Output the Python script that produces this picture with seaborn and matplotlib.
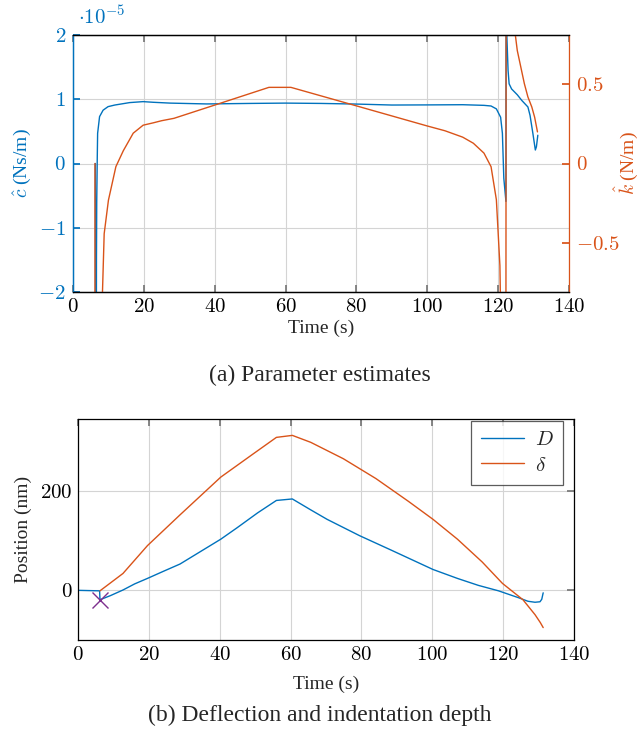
import numpy as np
import pandas as pd
import matplotlib
matplotlib.use("Agg")
import matplotlib.pyplot as plt
import seaborn as sns
from matplotlib.ticker import FuncFormatter, FixedLocator

sns.set_theme(style="white")
plt.rcParams['font.family'] = ['Liberation Serif', 'DejaVu Serif']
plt.rcParams['mathtext.fontset'] = 'cm'

BLUE = "#0072BD"
ORANGE = "#D95319"
PURPLE = "#7E2F8E"

# ---- (a) parameter estimates ----
# c-hat (units of 1e-5 Ns/m)
c_t = [6.3, 6.4, 6.55, 6.62, 6.7, 6.85, 6.95, 7.5, 8.5, 9.9, 11.8, 16.0, 19.8, 22.6, 27.4,
       37.7, 50.0, 60.0, 70.0, 80.0, 90.0, 100.0, 110.0, 116.0, 118.0, 119.5, 120.7,
       121.2, 121.6, 122.2, 122.25, 122.45, 122.8, 123.1, 123.8, 125.4, 126.7, 128.4,
       129.0, 129.8, 130.5, 130.8, 131.2]
c_v = [0.0, -5.0, -5.0, -1.5, -0.6, 0.1, 0.47, 0.73, 0.83, 0.885, 0.91, 0.948, 0.963, 0.953, 0.94,
       0.927, 0.935, 0.94, 0.935, 0.925, 0.91, 0.912, 0.915, 0.905, 0.895, 0.85, 0.72,
       0.47, -0.23, -0.59, 3.0, 2.0, 1.45, 1.24, 1.16, 1.07, 0.98, 0.88,
       0.75, 0.47, 0.21, 0.26, 0.44]
# k-hat (N/m)
k_t = [6.2, 6.22, 8.0, 8.3, 8.8, 10.0, 12.1, 14.2, 17.0, 19.8, 22.7, 25.0, 28.5, 40.0,
       55.3, 61.5, 80.0, 100.0, 105.0, 110.0, 113.0, 116.0, 118.0, 119.5, 120.5, 120.9,
       121.2, 122.15, 122.3, 124.6, 125.4, 126.4, 127.4, 128.4, 129.5, 130.3, 131.1]
k_v = [0.0, -3.0, -3.0, -0.82, -0.44, -0.23, -0.02, 0.08, 0.19, 0.24, 0.255, 0.268, 0.283, 0.366,
       0.477, 0.477, 0.361, 0.235, 0.205, 0.165, 0.127, 0.065, -0.02, -0.227, -0.64, -1.2,
       -3.0, -3.0, 3.0, 0.85, 0.708, 0.604, 0.5, 0.417, 0.354, 0.29, 0.198]

# ---- (b) deflection and indentation ----
D_t = [0.0, 3.0, 6.1, 6.2, 9.2, 12.7, 16.0, 19.6, 24.0, 28.8, 33.4, 40.3, 44.9, 50.7, 56.0,
       60.5, 65.7, 70.3, 79.5, 88.7, 100.2, 107.1, 113.0, 118.7, 124.4, 127.0, 129.0,
       130.4, 130.9, 131.3]
D_v = [0.0, -0.5, -1.0, -19.0, -10.5, 0.7, 13.0, 24.0, 38.0, 53.0, 73.0, 103.0, 126.0, 156.0, 181.0,
       184.0, 162.0, 143.0, 110.0, 80.0, 42.0, 24.0, 10.0, -1.0, -15.0, -22.0, -24.0,
       -23.0, -18.0, -5.0]
d_t = [6.2, 12.7, 19.6, 28.8, 40.3, 49.5, 56.0, 60.5, 65.7, 74.9, 84.1, 93.3, 100.2, 107.1,
       114.1, 119.8, 125.6, 129.0, 130.5, 131.3]
d_v = [-1.0, 34.0, 90.0, 152.0, 228.0, 275.0, 308.0, 312.0, 298.0, 265.0, 225.0, 179.0, 143.0, 103.0,
       57.0, 14.0, -19.0, -49.0, -65.0, -75.0]
contact_t = [6.3]
contact_v = [-20.0]

x_ticks = [0, 20, 40, 60, 80, 100, 120, 140]
c_ticks = [-2, -1, 0, 1, 2]
k_ticks = [-0.5, 0, 0.5]
pos_ticks = [0, 200]

TICK_FS = 15
LAB_FS = 14
CAP_FS = 17


def mfmt(v, pos=None):
    if abs(v - round(v)) < 1e-9:
        s = f"{int(round(v))}"
    else:
        s = f"{v:g}"
    return f"${s}$"


fig = plt.figure(figsize=(6.4, 7.36), dpi=100)

# ---------- top ----------
ax = fig.add_axes([73 / 640, 1 - 292 / 736, 496 / 640, 257 / 736])
ax2 = ax.twinx()

dfc = pd.DataFrame({"t": c_t, "v": c_v})
dfk = pd.DataFrame({"t": k_t, "v": k_v})
sns.lineplot(data=dfc, x="t", y="v", ax=ax, color=BLUE, lw=1.0, sort=False, estimator=None)
sns.lineplot(data=dfk, x="t", y="v", ax=ax2, color=ORANGE, lw=1.0, sort=False, estimator=None)

ax.set_xlim(0, 140)
ax.set_ylim(-2, 2)
ax2.set_ylim(-0.805, 0.805)
ax.xaxis.set_major_locator(FixedLocator(x_ticks))
ax.yaxis.set_major_locator(FixedLocator(c_ticks))
ax2.yaxis.set_major_locator(FixedLocator(k_ticks))
for a in (ax.xaxis, ax.yaxis, ax2.yaxis):
    a.set_major_formatter(FuncFormatter(mfmt))
ax.grid(True, color="#d4d4d4", lw=0.8)
ax.set_axisbelow(True)
ax.tick_params(axis="x", direction="in", length=5, color="#777777", top=True, bottom=True,
               labelsize=TICK_FS, labelcolor="black", pad=4)
ax.tick_params(axis="y", direction="in", length=5, color=BLUE, left=True, right=False,
               labelsize=TICK_FS, labelcolor=BLUE, pad=5)
ax2.tick_params(axis="y", direction="in", length=5, color=ORANGE, right=True, left=False,
                labelsize=TICK_FS, labelcolor=ORANGE, pad=5)
ax.set_xlabel("Time (s)", fontsize=LAB_FS, labelpad=2)
ax.set_ylabel(r"$\hat{c}$ (Ns/m)", fontsize=LAB_FS, color=BLUE, labelpad=4)
ax2.set_ylabel(r"$\hat{k}$ (N/m)", fontsize=LAB_FS, color=ORANGE, rotation=90)
ax2.yaxis.set_label_coords((626 - 73) / 496, 0.5)
ax2.yaxis.label.set_horizontalalignment("center")
ax2.yaxis.label.set_verticalalignment("center")
for s in ("top", "bottom"):
    ax.spines[s].set_color("black")
    ax2.spines[s].set_color("black")
ax2.spines["left"].set_color(BLUE)
ax.spines["left"].set_color(BLUE)
ax2.spines["right"].set_color(ORANGE)
for sp in list(ax.spines.values()) + list(ax2.spines.values()):
    sp.set_linewidth(0.9)
ax.spines["right"].set_visible(False)
fig.text(78 / 640, 1 - 18 / 736, r"$\cdot 10^{-5}$", color=BLUE, fontsize=TICK_FS, ha="left", va="center")
fig.text(0.5, 1 - 375 / 736, "(a) Parameter estimates", fontsize=CAP_FS, ha="center", va="center")

# ---------- bottom ----------
bx = fig.add_axes([78 / 640, 1 - 640 / 736, 496 / 640, 221 / 736])
dfD = pd.DataFrame({"t": D_t, "v": D_v})
dfd = pd.DataFrame({"t": d_t, "v": d_v})
sns.lineplot(data=dfD, x="t", y="v", ax=bx, color=BLUE, lw=1.0, sort=False, estimator=None, label="$D$")
sns.lineplot(data=dfd, x="t", y="v", ax=bx, color=ORANGE, lw=1.0, sort=False, estimator=None, label=r"$\delta$")
bx.plot(contact_t, contact_v, linestyle="none", marker="x", color=PURPLE, markersize=11, mew=1.0)
bx.set_xlim(0, 140)
bx.set_ylim(-100, 345)
bx.xaxis.set_major_locator(FixedLocator(x_ticks))
bx.yaxis.set_major_locator(FixedLocator(pos_ticks))
bx.xaxis.set_major_formatter(FuncFormatter(mfmt))
bx.yaxis.set_major_formatter(FuncFormatter(mfmt))
bx.grid(True, color="#d4d4d4", lw=0.8)
bx.set_axisbelow(True)
bx.tick_params(direction="in", length=5, color="#777777", top=True, right=True,
               labelsize=TICK_FS, labelcolor="black", pad=4)
bx.set_xlabel("Time (s)", fontsize=LAB_FS, labelpad=8)
bx.set_ylabel("Position (nm)", fontsize=LAB_FS, labelpad=6)
for sp in bx.spines.values():
    sp.set_color("black")
    sp.set_linewidth(0.9)
leg = bx.legend(loc="upper right", bbox_to_anchor=((563 - 78) / 496, (640 - 421) / 221),
                fontsize=15, frameon=True, fancybox=False, edgecolor="#333333",
                handlelength=2.1, borderaxespad=0.0, labelspacing=0.3, handletextpad=0.5,
                borderpad=0.45)
leg.get_frame().set_linewidth(0.9)
fig.text(0.5, 1 - 715 / 736, "(b) Deflection and indentation depth", fontsize=CAP_FS, ha="center", va="center")

fig.savefig("out.png", dpi=100)
